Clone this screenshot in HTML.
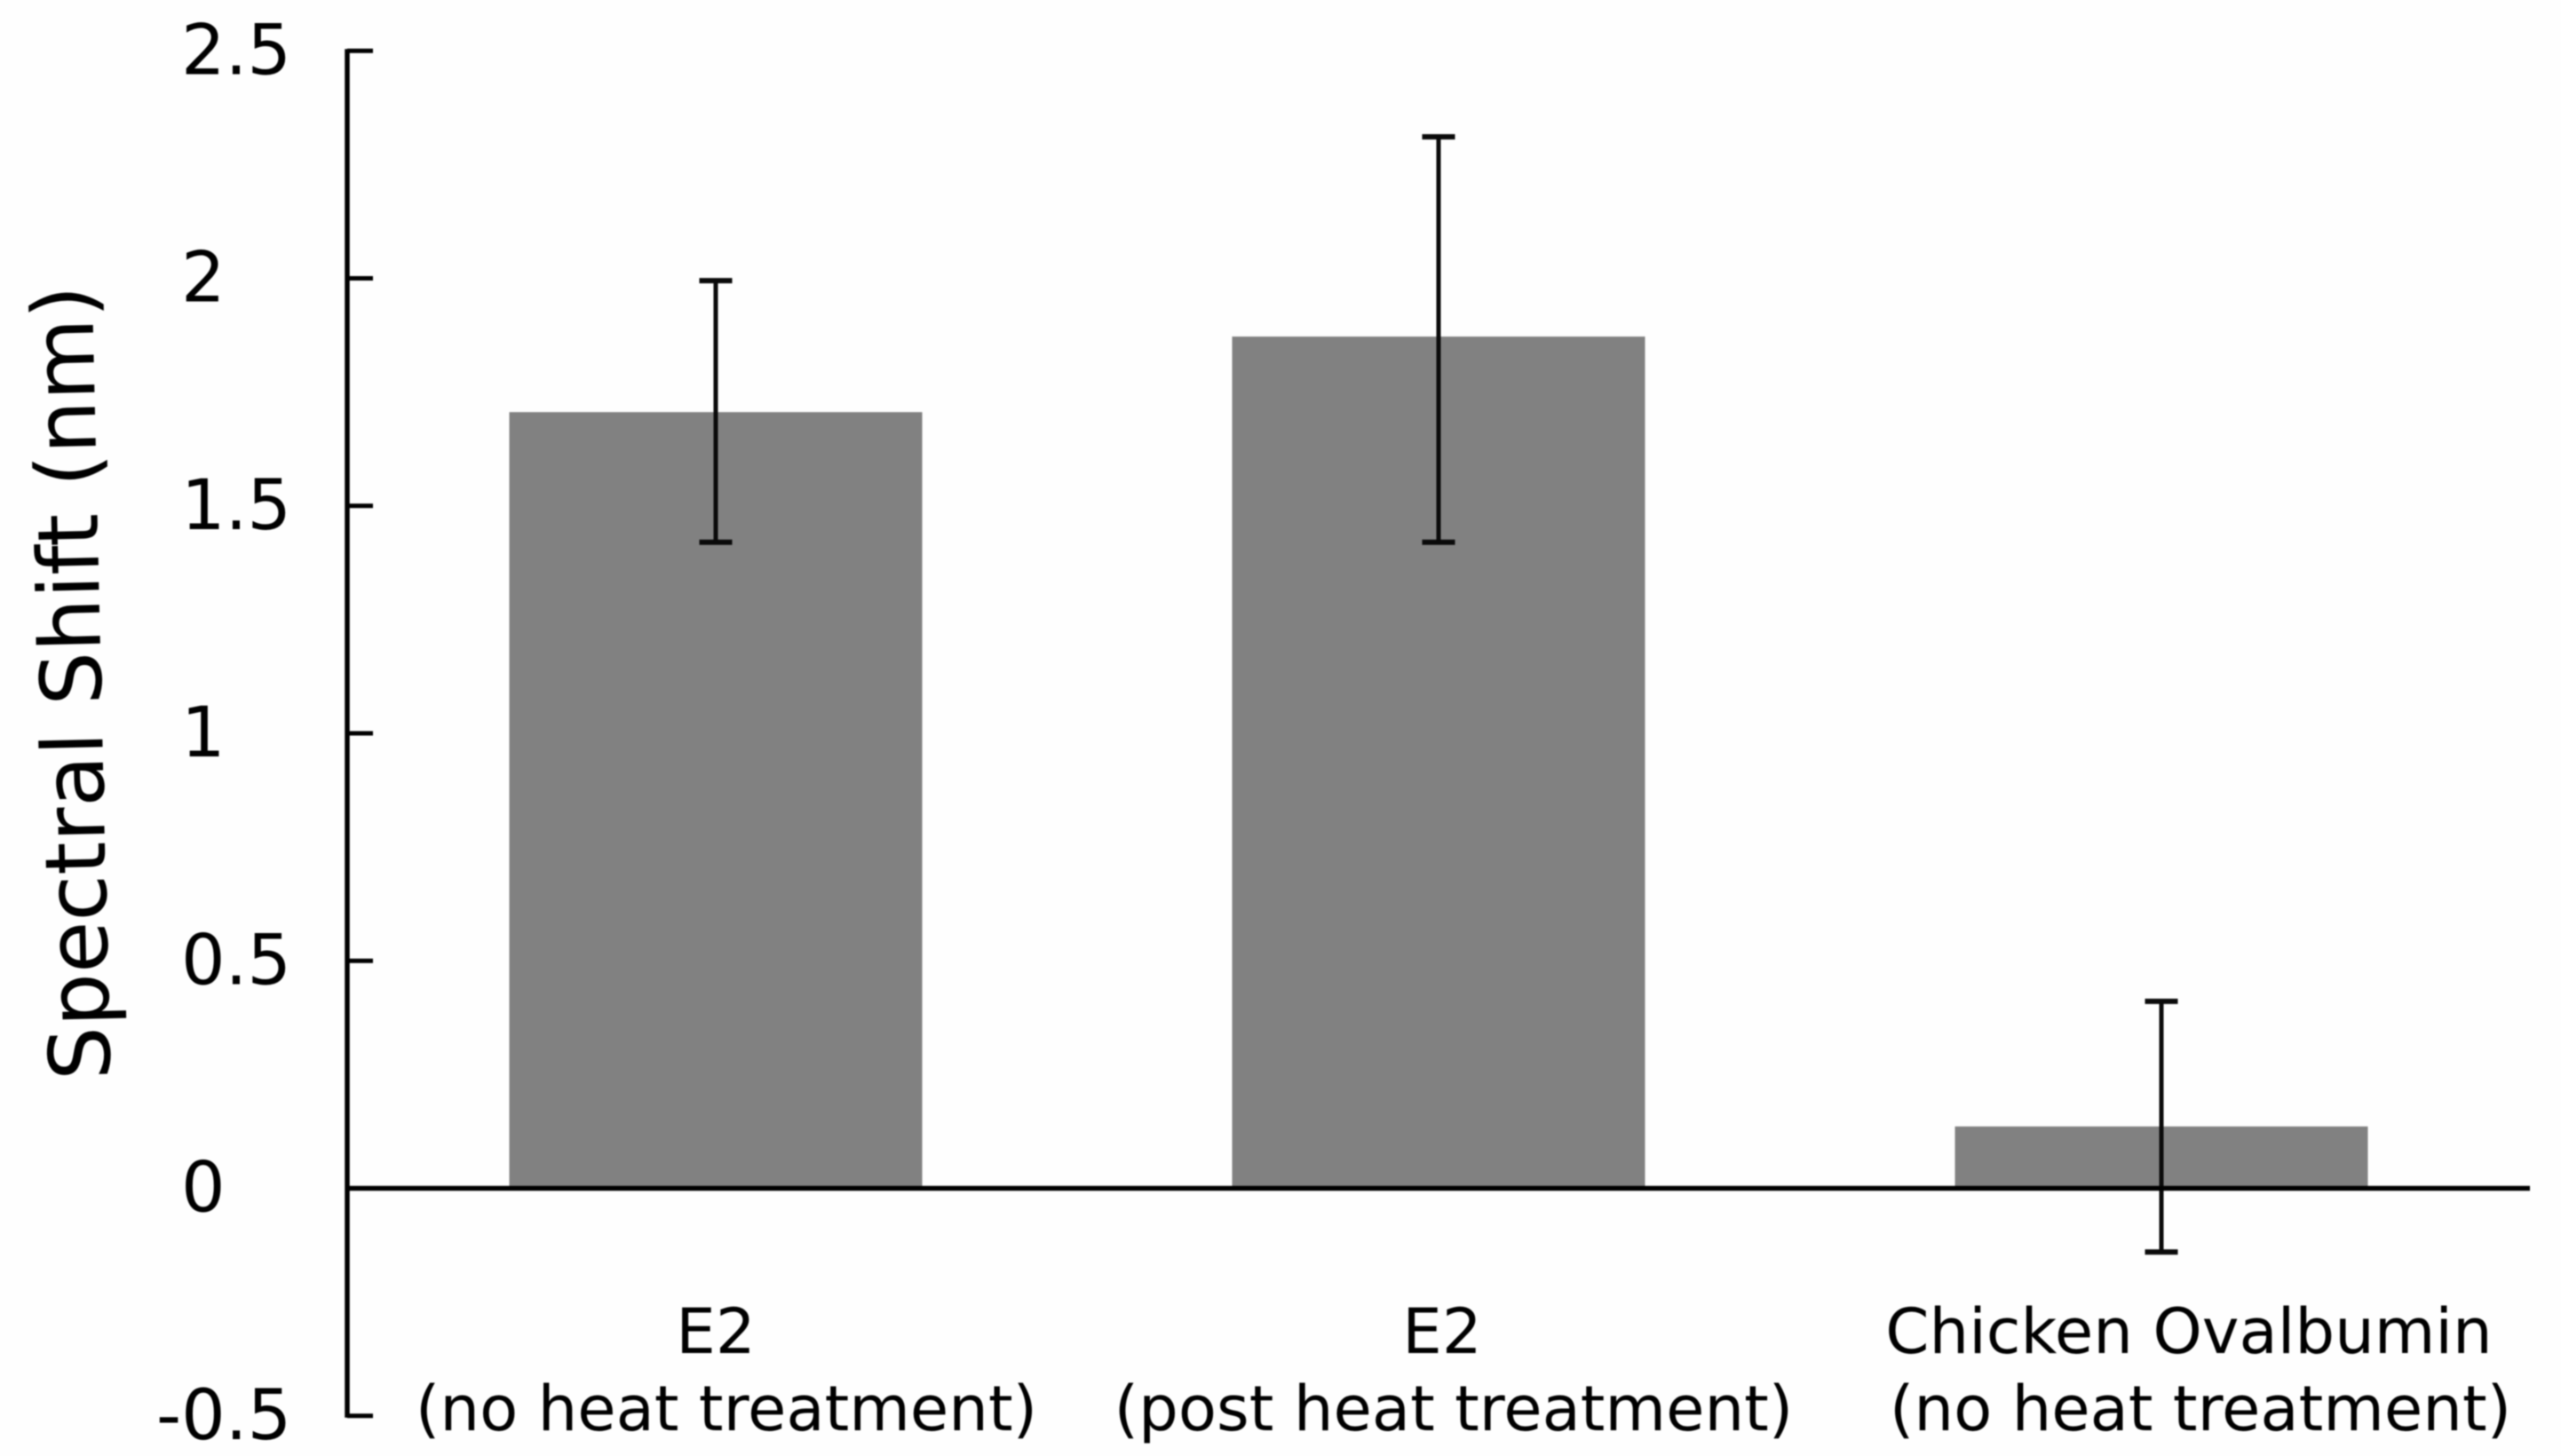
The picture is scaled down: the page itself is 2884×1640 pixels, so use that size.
<!DOCTYPE html>
<html lang="en">
<head>
<meta charset="utf-8">
<title>Spectral Shift Bar Chart</title>
<style>
html,body{margin:0;padding:0;background:#fefefe;width:2884px;height:1640px;overflow:hidden}
#chart{display:block;filter:blur(0.9px)}
text{font-family:"DejaVu Sans","Liberation Sans",sans-serif;fill:#000}
</style>
</head>
<body>
<svg id="chart" xmlns="http://www.w3.org/2000/svg" width="2884" height="1640" viewBox="0 0 2884 1640">
  <rect x="0" y="0" width="2884" height="1640" fill="#fefefe"/>
  <g id="bars"></g>
  <g id="errors"></g>
  <g id="axis"></g>
  <g id="xlabels"></g>
  <text font-size="95" transform="translate(124 1216) rotate(-91.3)">Spectral Shift (nm)</text>
</svg>
<script>
const categories = [["E2", "(no heat treatment)"], ["E2", "(post heat treatment)"], ["Chicken Ovalbumin", "(no heat treatment)"]];
const barValues = [1.706, 1.872, 0.136];
const errorUpper = [1.995, 2.311, 0.411];
const errorLower = [1.42, 1.42, -0.14];
const tickValues = [2.5, 2, 1.5, 1, 0.5, 0, -0.5];
const tickLabels = ["2.5", "2", "1.5", "1", "0.5", "0", "-0.5"];

const NS = "http://www.w3.org/2000/svg";
function yScale(v) { return 1338.5 - 512.5 * v; }
function xScale(i) { return 806 + 814 * i; }
const BAR_W = 465, CAP_W = 37, STROKE = 5;

function make(tag, parent, attrs) {
  const el = document.createElementNS(NS, tag);
  for (const k in attrs) el.setAttribute(k, attrs[k]);
  parent.appendChild(el);
  return el;
}

const barsG = document.getElementById("bars");
const errorsG = document.getElementById("errors");
const axisG = document.getElementById("axis");
const labelsG = document.getElementById("xlabels");

barValues.forEach(function (v, i) {
  const top = Math.min(yScale(v), yScale(0));
  const bar = make("rect", barsG, {x: xScale(i) - BAR_W / 2, y: top, width: BAR_W, height: Math.abs(yScale(0) - yScale(v)), fill: "#818181"});
  
  
});

// baseline at zero
const baseline = make("line", axisG, {x1: 390, x2: 2849, y1: yScale(0), y2: yScale(0), stroke: "#000", "stroke-width": 5.5});



// y axis line
const axisLine = make("line", axisG, {x1: 391, x2: 391, y1: yScale(2.5) - 2, y2: yScale(-0.5) + 2, stroke: "#000", "stroke-width": 5.5});



tickValues.forEach(function (v, i) {
  const t = make("line", axisG, {x1: 391, x2: 420, y1: yScale(v), y2: yScale(v), stroke: "#000", "stroke-width": 5});
  
  
  const lab = make("text", axisG, {x: v < 0 ? 176 : 204, y: yScale(v) + 26, "font-size": 78});
  lab.textContent = tickLabels[i];
  
  
});

errorUpper.forEach(function (u, i) {
  const cx = xScale(i);
  const g = make("g", errorsG, {stroke: "#0a0a0a", "stroke-width": STROKE});
  
  
  make("line", g, {x1: cx, x2: cx, y1: yScale(u), y2: yScale(errorLower[i])});
  make("line", g, {x1: cx - CAP_W / 2, x2: cx + CAP_W / 2, y1: yScale(u), y2: yScale(u), "stroke-width": 6});
  make("line", g, {x1: cx - CAP_W / 2, x2: cx + CAP_W / 2, y1: yScale(errorLower[i]), y2: yScale(errorLower[i]), "stroke-width": 6});
});

// category labels sit right of their bars, as in the figure
function labelShift(i, line) {
  if (i === 0) return line === 0 ? 0 : 12;
  if (i === 1) return line === 0 ? 4 : 17;
  return line === 0 ? 31 : 44;
}

categories.forEach(function (lines, i) {
  lines.forEach(function (s, line) {
    const t = make("text", labelsG, {x: xScale(i) + labelShift(i, line), y: line === 0 ? 1524 : 1611, "font-size": 70.5, "text-anchor": "middle"});
    t.textContent = s;
    
    
  });
});
</script>
</body>
</html>
